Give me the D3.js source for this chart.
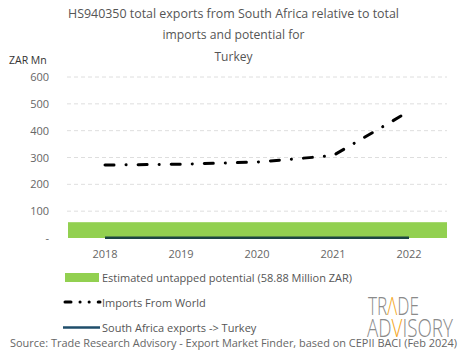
<!DOCTYPE html>
<html><head><meta charset="utf-8">
<script src="https://cdn.jsdelivr.net/npm/d3@7"></script>
<style>body{margin:0;background:#fff;} text{font-family:"Open Sans","Noto Sans",sans-serif;}</style>
</head><body><div id="c"></div>
<script>
const years = ["2018","2019","2020","2021","2022"];
const importsWorld = [272, 275, 283, 307, 472];
const saExports = [0.6, 0.6, 0.6, 0.6, 0.6];
const untappedPotential = 58.88;
const yTicks = [0,100,200,300,400,500,600];
const titleLines = ["HS940350 total exports from South Africa relative  to total","imports and potential  for","Turkey"];
const titleWidths = [331,142,38];
const legendLabels = ["Estimated untapped potential (58.88 Million ZAR)","Imports From World","South Africa exports -> Turkey"];
const sourceText = "Source: Trade Research Advisory - Export Market Finder, based on CEPII BACI (Feb 2024)";

const W=465,H=359;
const svg=d3.select("#c").append("svg").attr("width",W).attr("height",H);
const x=d3.scaleBand().domain(years).range([67,447]);
const y=d3.scaleLinear().domain([0,600]).range([238,77]);

// title
svg.selectAll(".t").data(titleLines).enter().append("text")
 .attr("x",233.5).attr("y",(d,i)=>17.5+i*21.5).attr("text-anchor","middle")
 .attr("font-size",12).attr("fill","#555")
 .attr("textLength",(d,i)=>titleWidths[i]).attr("lengthAdjust","spacingAndGlyphs").text(d=>d);
svg.append("text").attr("x",9).attr("y",64).attr("font-size",10.5).attr("fill","#333").text("ZAR Mn");

// grid
const g=svg.append("g");
g.selectAll("line").data(yTicks.filter(d=>d>0)).enter().append("line")
 .attr("x1",67).attr("x2",447).attr("y1",d=>y(d)).attr("y2",d=>y(d))
 .attr("stroke","#d6d6d6").attr("stroke-dasharray","4,3").attr("stroke-width",0.8);

// y axis labels
const ya=svg.append("g").attr("transform","translate(52,0)")
 .call(d3.axisLeft(y).tickValues(yTicks).tickSize(0).tickFormat(d=>d===0?"-":d));
ya.select(".domain").remove();
ya.selectAll("text").attr("font-size",11).attr("fill","#666").attr("font-family","Open Sans,Noto Sans,sans-serif");

// x axis labels
const xa=svg.append("g").attr("transform","translate(0,247)")
 .call(d3.axisBottom(x).tickSize(0));
xa.select(".domain").remove();
xa.selectAll("text").attr("font-size",11).attr("fill","#666").attr("dy","0.71em").attr("font-family","Open Sans,Noto Sans,sans-serif");

// untapped potential band
svg.append("rect").attr("x",x.range()[0]+1).attr("width",x.range()[1]-x.range()[0]-1)
 .attr("y",y(untappedPotential)).attr("height",y(0)-y(untappedPotential)).attr("fill","#92d050");

// SA exports line
const cx=d=>x(d)+x.bandwidth()/2;
svg.append("path").datum(saExports.map((v,i)=>[years[i],v]))
 .attr("d",d3.line().x(d=>cx(d[0])).y(d=>y(d[1])))
 .attr("fill","none").attr("stroke","#1b4543").attr("stroke-width",2.5);

// imports line
svg.append("path").datum(importsWorld.map((v,i)=>[years[i],v]))
 .attr("d",d3.line().x(d=>cx(d[0])).y(d=>y(d[1])))
 .attr("fill","none").attr("stroke","#000").attr("stroke-width",3)
 .attr("stroke-linecap","round").attr("stroke-dasharray","9,12,0.1,12");

// legend
const lg=svg.append("g");
lg.append("rect").attr("x",65).attr("y",273).attr("width",34).attr("height",9).attr("fill","#92d050");
lg.append("line").attr("x1",65).attr("x2",100).attr("y1",302).attr("y2",302)
 .attr("stroke","#000").attr("stroke-width",3).attr("stroke-linecap","round").attr("stroke-dasharray","6,9,0.1,9,0.1,9");
lg.append("line").attr("x1",63).attr("x2",100).attr("y1",327.5).attr("y2",327.5)
 .attr("stroke","#1f4e6b").attr("stroke-width",2.5);
lg.selectAll("text").data(legendLabels).enter().append("text")
 .attr("x",102).attr("y",(d,i)=>281.5+i*25).attr("font-size",11).attr("fill","#555").text(d=>d);

// logo
function logoLine(parts, x0, y0, targetW){
  const t=svg.append("text").attr("x",0).attr("y",0).attr("font-size",22)
   .attr("font-family","Roboto,'Liberation Sans',sans-serif").attr("font-weight",300).attr("fill","#8a8a8a");
  parts.forEach(p=>t.append("tspan").attr("fill",p[1]?"#f5a623":null).text(p[0]));
  const w=t.node().getComputedTextLength();
  t.attr("transform",`translate(${x0},${y0}) scale(${targetW/w},1.2)`);
}
logoLine([["TR"],["Λ",1],["DE"]],368,315,51);
logoLine([["AD"],["V",1],["ISORY"]],367,337,86);

// source
svg.append("text").attr("x",10).attr("y",347).attr("font-size",11).attr("fill","#666")
 .attr("textLength",447).attr("lengthAdjust","spacingAndGlyphs").text(sourceText);
</script></body></html>
